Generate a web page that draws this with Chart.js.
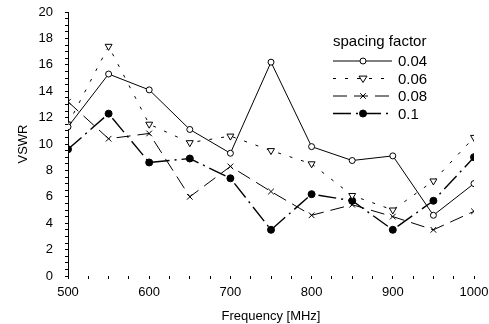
<!DOCTYPE html>
<html>
<head>
<meta charset="utf-8">
<script src="https://cdn.jsdelivr.net/npm/chart.js@4.4.1/dist/chart.umd.min.js"></script>
<style>
  html, body { margin: 0; padding: 0; background: #fff; }
  #wrap { width: 489px; height: 324px; }
</style>
</head>
<body>
<div id="wrap"><canvas id="vswrChart" width="489" height="324"></canvas></div>
<script>
// ================= DATA =================
const frequencies = [500, 550, 600, 650, 700, 750, 800, 850, 900, 950, 1000];
const seriesLabels = ["0.04", "0.06", "0.08", "0.1"];
const vswr004 = [11.3, 15.3, 14.1, 11.1, 9.3, 16.2, 9.8, 8.75, 9.1, 4.6, 7.0];
const vswr006 = [11.5, 17.4, 11.5, 10.1, 10.6, 9.5, 8.5, 6.1, 5.0, 7.2, 10.5];
const vswr008 = [13.2, 10.4, 10.8, 6.0, 8.3, 6.4, 4.6, 5.4, 4.5, 3.5, 4.9];
const vswr01 = [9.6, 12.3, 8.6, 8.9, 7.4, 3.5, 6.2, 5.7, 3.5, 5.7, 9.0];
const yTickLabels = [0, 2, 4, 6, 8, 10, 12, 14, 16, 18, 20];
const xTickLabels = [500, 600, 700, 800, 900, 1000];

const FONT = "'Liberation Sans', Arial, sans-serif";

function toPoints(values) {
  return frequencies.map((f, i) => ({ x: f, y: values[i] }));
}

// ================= LEGEND (inside plot) =================
function drawMarker(ctx, ds, x, y) {
  ctx.save();
  ctx.lineWidth = 1;
  ctx.setLineDash([]);
  ctx.strokeStyle = "#000";
  ctx.fillStyle = ds.pointBackgroundColor;
  const r = ds.pointRadius;
  ctx.beginPath();
  if (ds.pointStyle === "circle") {
    ctx.arc(x, y, r, 0, Math.PI * 2);
    ctx.fill();
    ctx.stroke();
  } else if (ds.pointStyle === "triangle") {
    ctx.moveTo(x - r, y - r * 0.6);
    ctx.lineTo(x + r, y - r * 0.6);
    ctx.lineTo(x, y + r);
    ctx.closePath();
    ctx.fill();
    ctx.stroke();
  } else {
    const d = r * 0.7;
    ctx.moveTo(x - d, y - d); ctx.lineTo(x + d, y + d);
    ctx.moveTo(x + d, y - d); ctx.lineTo(x - d, y + d);
    ctx.stroke();
  }
  ctx.restore();
}

const insideLegend = {
  id: "insideLegend",
  afterDraw(chart) {
    const ctx = chart.ctx;
    ctx.save();
    ctx.fillStyle = "#000";
    ctx.font = "15px " + FONT;
    ctx.textBaseline = "middle";
    ctx.textAlign = "left";
    ctx.fillText("spacing factor", 333, 42);
    chart.data.datasets.forEach((ds, i) => {
      const y = 61 + i * 17.5;
      ctx.strokeStyle = "#000";
      ctx.lineWidth = ds.borderWidth;
      ctx.setLineDash(ds.borderDash || []);
      ctx.beginPath();
      ctx.moveTo(333, y);
      ctx.lineTo(392, y);
      ctx.stroke();
      drawMarker(ctx, ds, 363, y);
      ctx.setLineDash([]);
      ctx.fillText(ds.label, 398, y + 1);
    });
    ctx.restore();
  },
};

// ================= CHART =================
const ctx = document.getElementById("vswrChart").getContext("2d");

new Chart(ctx, {
  type: "line",
  data: {
    datasets: [
      {
        label: seriesLabels[0],
        data: toPoints(vswr004),
        borderColor: "#000",
        borderWidth: 1,
        pointStyle: "circle",
        pointRadius: 3,
        pointBackgroundColor: "#fff",
        pointBorderColor: "#000",
        pointBorderWidth: 1,
      },
      {
        label: seriesLabels[1],
        data: toPoints(vswr006),
        borderColor: "#000",
        borderWidth: 1,
        borderDash: [3, 9],
        pointStyle: "triangle",
        pointRotation: 180,
        pointRadius: 4,
        pointBackgroundColor: "#fff",
        pointBorderColor: "#000",
        pointBorderWidth: 1,
      },
      {
        label: seriesLabels[2],
        data: toPoints(vswr008),
        borderColor: "#000",
        borderWidth: 1,
        borderDash: [14, 7],
        pointStyle: "crossRot",
        pointRadius: 4,
        pointBackgroundColor: "#000",
        pointBorderColor: "#000",
        pointBorderWidth: 1,
      },
      {
        label: seriesLabels[3],
        data: toPoints(vswr01),
        borderColor: "#000",
        borderWidth: 1.4,
        borderDash: [18, 5, 2, 5],
        pointStyle: "circle",
        pointRadius: 3.5,
        pointBackgroundColor: "#000",
        pointBorderColor: "#000",
        pointBorderWidth: 1,
      },
    ],
  },
  options: {
    responsive: false,
    animation: false,
    layout: { padding: { left: 0, right: 15, top: 12, bottom: 0 } },
    plugins: {
      legend: { display: false },
      tooltip: { enabled: false },
    },
    scales: {
      x: {
        type: "linear",
        min: 500,
        max: 1000,
        afterFit: (scale) => {
          scale.height = 48;
          scale.paddingLeft = 0;
          scale.paddingRight = 0;
        },
        afterBuildTicks: (scale) => {
          const t = [];
          for (let v = 500; v <= 1000; v += 25) t.push({ value: v });
          scale.ticks = t;
        },
        ticks: {
          autoSkip: false,
          maxRotation: 0,
          padding: 6,
          color: "#000",
          font: { family: FONT, size: 13 },
          callback: (v) => (xTickLabels.includes(v) ? String(v) : ""),
        },
        border: { display: false },
        grid: { drawOnChartArea: false, tickLength: 3, color: "#000", tickWidth: 1 },
        title: {
          display: true,
          text: "Frequency [MHz]",
          color: "#000",
          font: { family: FONT, size: 13 },
          padding: { top: 1, bottom: 0 },
        },
      },
      y: {
        min: 0,
        max: 20,
        afterFit: (scale) => {
          scale.width = 68;
          scale.paddingTop = 0;
          scale.paddingBottom = 0;
        },
        afterBuildTicks: (scale) => {
          const t = [];
          for (let v = 0; v <= 20; v += 0.5) t.push({ value: v });
          scale.ticks = t;
        },
        ticks: {
          autoSkip: false,
          padding: 12,
          color: "#000",
          font: { family: FONT, size: 13 },
          callback: (v) => (yTickLabels.includes(v) ? String(v) : ""),
        },
        border: { display: true, color: "#000", width: 1 },
        grid: { drawOnChartArea: false, tickLength: 3, color: "#000" },
        title: {
          display: true,
          text: "VSWR",
          color: "#000",
          font: { family: FONT, size: 13 },
          padding: { top: 16, bottom: 0 },
        },
      },
    },
  },
  plugins: [insideLegend],
});
</script>
</body>
</html>
